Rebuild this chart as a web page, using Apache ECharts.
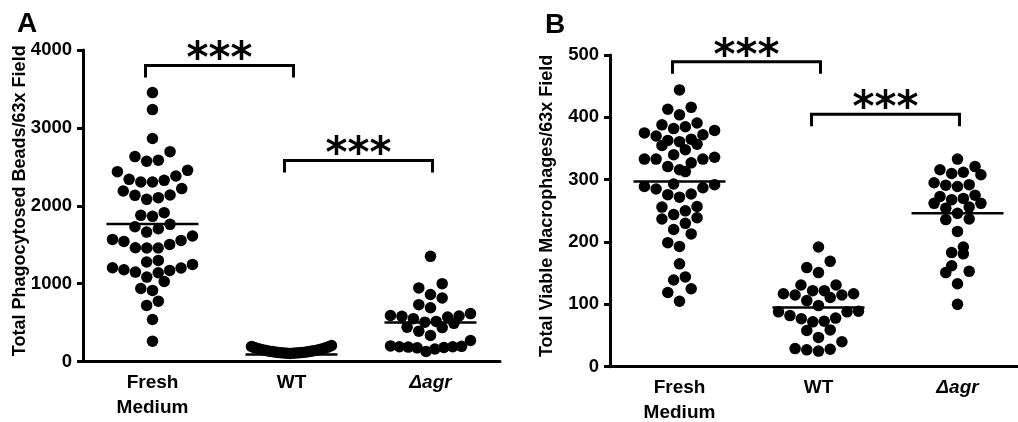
<!DOCTYPE html>
<html>
<head>
<meta charset="utf-8">
<script src="https://cdn.jsdelivr.net/npm/echarts@6/dist/echarts.min.js"></script>
<style>
  html, body { margin: 0; padding: 0; background: #fff; }
  #chart { width: 1018px; height: 422px; }
</style>
</head>
<body>
<div id="chart"></div>
<script>
const categories = ["Fresh\nMedium", "WT", "Δagr"];

// panel A: total phagocytosed beads per 63x field
const beadsFresh = [3453, 3235, 2863, 2695, 2631, 2584, 2571, 2455, 2438, 2382, 2339, 2326, 2305, 2305,
  2220, 2189, 2138, 2134, 2104, 2082, 1911, 1877, 1864, 1761, 1731, 1705, 1662, 1611, 1568, 1555,
  1542, 1504, 1461, 1457, 1457, 1298, 1277, 1247, 1204, 1200, 1178, 1170, 1148, 1139, 1084, 1028,
  938, 913, 775, 720, 540, 261];
const beadsWT = [104, 106, 107, 109, 110, 112, 113, 116, 117, 120, 121, 125, 127, 131, 133, 138,
  140, 146, 148, 154, 157, 164, 167, 175, 179, 188, 193, 205];
const beadsAgr = [1350, 1000, 945, 860, 815, 730, 690, 615, 590, 585, 580, 570, 550, 515, 505, 490,
  440, 435, 390, 335, 270, 200, 195, 190, 190, 185, 180, 175, 160, 130];
const beadsMeans = [1765, 90, 500];
const beadsTicks = [0, 1000, 2000, 3000, 4000];
const beadsBrackets = [[0, 1, 3800], [1, 2, 2580]];

// panel B: total viable macrophages per 63x field
const macroFresh = [444, 416, 413, 404, 391, 388, 385, 382, 379, 375, 372, 370, 365, 363, 361, 357,
  355, 348, 340, 336, 333, 333, 333, 327, 321, 316, 313, 293, 292, 289, 287, 285, 277, 276, 272,
  257, 256, 250, 244, 239, 237, 230, 220, 213, 199, 193, 165, 144, 139, 125, 119, 105];
const macroWT = [192, 169, 159, 151, 131, 131, 122, 122, 117, 117, 115, 115, 111, 106, 98, 89, 88,
  88, 82, 78, 77, 73, 72, 59, 58, 47, 40, 29, 28, 27, 25];
const macroAgr = [333, 321, 316, 312, 310, 308, 295, 292, 291, 289, 275, 273, 270, 268, 262, 262,
  256, 254, 246, 237, 236, 217, 192, 183, 181, 162, 153, 151, 133, 100];
const macroMeans = [297, 95, 246];
const macroTicks = [0, 100, 200, 300, 400, 500];
const macroBrackets = [[0, 1, 489], [1, 2, 405]];

const sigLabel = "***";
const FONT = "Liberation Sans";

const chart = echarts.init(document.getElementById("chart"));

function xAxisFor(gridIndex) {
  return {
    type: "category",
    gridIndex,
    data: categories,
    axisLine: { lineStyle: { color: "#000", width: 3 } },
    axisTick: { alignWithLabel: true, length: 7, lineStyle: { color: "#000", width: 3 } },
    axisLabel: {
      color: "#000",
      fontFamily: FONT,
      fontSize: 19,
      fontWeight: "bold",
      lineHeight: 25,
      margin: 9,
      formatter: v => (v === "Δagr" ? "{d|Δ}{i|agr}" : v),
      rich: {
        d: { fontFamily: FONT, fontSize: 19, fontStyle: "italic", color: "#000" },
        i: { fontFamily: FONT, fontSize: 19, fontStyle: "italic", fontWeight: "bold", color: "#000" }
      }
    },
    splitLine: { show: false }
  };
}

function yAxisFor(gridIndex, ticks, title) {
  return {
    type: "value",
    gridIndex,
    min: ticks[0],
    max: ticks[ticks.length - 1],
    interval: ticks[1] - ticks[0],
    name: title,
    nameLocation: "middle",
    nameRotate: 90,
    nameGap: 54,
    nameMoveOverlap: false,
    nameTextStyle: {
      color: "#000", fontFamily: FONT, fontSize: 18, fontWeight: "bold",
      padding: [0, 0, 0, 10]
    },
    axisLine: { show: true, lineStyle: { color: "#000", width: 3 } },
    axisTick: { show: true, length: 6, lineStyle: { color: "#000", width: 3 } },
    axisLabel: {
      color: "#000", fontFamily: FONT, fontSize: 18.5, fontWeight: "bold", margin: 11,
      formatter: v => String(v)
    },
    splitLine: { show: false }
  };
}

function meanSeries(idx, means) {
  return {
    type: "custom",
    xAxisIndex: idx,
    yAxisIndex: idx,
    z: 5,
    data: means.map((m, i) => [i, m]),
    renderItem(params, api) {
      const p = api.coord([api.value(0), api.value(1)]);
      return {
        type: "line",
        shape: { x1: p[0] - 46, y1: p[1], x2: p[0] + 46, y2: p[1] },
        style: { stroke: "#000", lineWidth: 2.5 }
      };
    }
  };
}

function bracketSeries(idx, brackets) {
  return {
    type: "custom",
    xAxisIndex: idx,
    yAxisIndex: idx,
    encode: { x: 0, y: 2 },
    data: brackets,
    renderItem(params, api) {
      const a = api.coord([api.value(0), api.value(2)]);
      const b = api.coord([api.value(1), api.value(2)]);
      const x1 = a[0] - 7, x2 = b[0] + 2, y = a[1];
      return {
        type: "group",
        children: [
          {
            type: "polyline",
            shape: { points: [[x1, y + 12], [x1, y], [x2, y], [x2, y + 12]] },
            style: { stroke: "#000", lineWidth: 3, fill: null, lineJoin: "miter" }
          },
          {
            type: "text",
            style: {
              text: sigLabel,
              x: (x1 + x2) / 2,
              y: y - 4,
              align: "center",
              verticalAlign: "middle",
              font: 'bold 42px "DejaVu Sans"',
              fill: "#000"
            }
          }
        ]
      };
    }
  };
}

function dotSeries(id, idx) {
  return {
    id,
    type: "scatter",
    xAxisIndex: idx,
    yAxisIndex: idx,
    symbol: "circle",
    symbolSize: 11.5,
    itemStyle: { color: "#000", opacity: 1 },
    data: []
  };
}

chart.setOption({
  animation: false,
  backgroundColor: "#fff",
  grid: [
    { left: 83, top: 50, width: 417, height: 311.5, outerBoundsMode: "none" },
    { left: 610, top: 55, width: 417, height: 311.7, outerBoundsMode: "none" }
  ],
  xAxis: [xAxisFor(0), xAxisFor(1)],
  yAxis: [
    yAxisFor(0, beadsTicks, "Total Phagocytosed Beads/63x Field"),
    yAxisFor(1, macroTicks, "Total Viable Macrophages/63x Field")
  ],
  graphic: [
    { type: "text", left: 17, top: 10, style: { text: "A", font: 'bold 28px "Liberation Sans"', fill: "#000" } },
    { type: "text", left: 545, top: 11, style: { text: "B", font: 'bold 28px "Liberation Sans"', fill: "#000" } }
  ],
  series: [
    dotSeries("a0", 0), dotSeries("a1", 0), dotSeries("a2", 0),
    dotSeries("b0", 1), dotSeries("b1", 1), dotSeries("b2", 1),
    meanSeries(0, beadsMeans), meanSeries(1, macroMeans),
    bracketSeries(0, beadsBrackets), bracketSeries(1, macroBrackets)
  ]
});

// Prism-style dot plot: bin points into rows, spread each row from the centre out
const GAP = 11.7, HALF = 40, ROW = 13;
function swarm(values, idx, axisIndex) {
  const y0 = chart.convertToPixel({ yAxisIndex: axisIndex }, 0);
  const y1 = chart.convertToPixel({ yAxisIndex: axisIndex }, 100);
  const pxPerUnit = Math.abs(y0 - y1) / 100;
  const sorted = values.slice().sort((a, b) => a - b);
  const rows = [];
  let cur = [];
  sorted.forEach(v => {
    if (cur.length && (v - cur[0]) * pxPerUnit >= ROW) {
      rows.push(cur);
      cur = [];
    }
    cur.push(v);
  });
  if (cur.length) rows.push(cur);

  const out = [];
  rows.forEach(row => {
    const n = row.length;
    const step = n > 1 ? Math.min(GAP, (2 * HALF) / (n - 1)) : 0;
    const slots = [];
    for (let k = 0; k < n; k++) slots.push(k - (n - 1) / 2);
    slots.sort((a, b) => Math.abs(a) - Math.abs(b) || a - b);
    row.forEach((v, i) => out.push({ value: [idx, v], symbolOffset: [slots[i] * step, 0] }));
  });
  return out;
}

chart.setOption({
  series: [
    { id: "a0", data: swarm(beadsFresh, 0, 0) },
    { id: "a1", data: swarm(beadsWT, 1, 0) },
    { id: "a2", data: swarm(beadsAgr, 2, 0) },
    { id: "b0", data: swarm(macroFresh, 0, 1) },
    { id: "b1", data: swarm(macroWT, 1, 1) },
    { id: "b2", data: swarm(macroAgr, 2, 1) }
  ]
});
</script>
</body>
</html>
